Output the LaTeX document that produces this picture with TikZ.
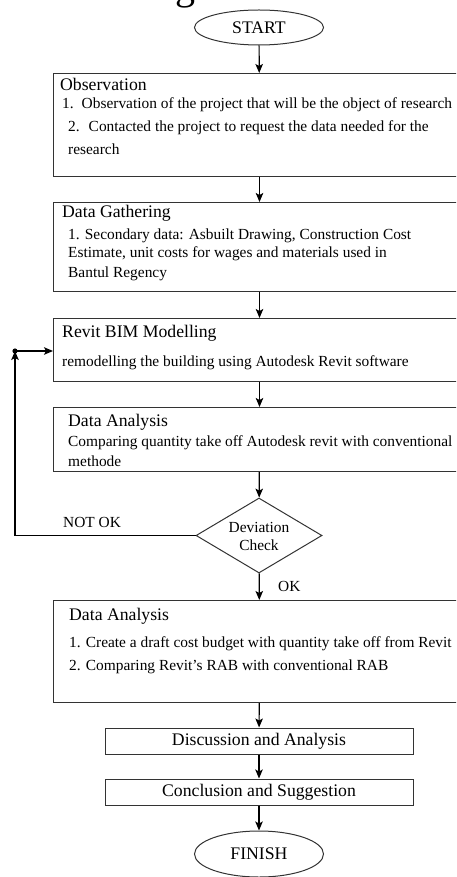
\documentclass[tikz,border=0pt]{standalone}
\usepackage{fontspec}
\setmainfont{Liberation Serif}
\usetikzlibrary{arrows.meta,shapes.geometric}
\newcommand\ttlsize{\fontsize{17.7}{20}\selectfont}
\newcommand\itmsize{\fontsize{15.4}{18}\selectfont}
\begin{document}
\begin{tikzpicture}[x=1pt,y=-1pt,
  box/.style={draw=black!80, line width=1pt, anchor=north west, inner sep=0pt, minimum width=412pt},
  smallbox/.style={draw=black!80, line width=1pt, inner sep=0pt, minimum width=308pt, minimum height=26pt, font=\ttlsize},
  term/.style={draw=black!80, line width=1pt, ellipse, inner sep=0pt, minimum width=129pt, font=\ttlsize},
  decision/.style={draw=black!80, line width=1pt, diamond, inner sep=0pt, minimum width=126pt, minimum height=75pt},
  ttl/.style={anchor=base west, inner sep=0pt, font=\ttlsize},
  itm/.style={anchor=base west, inner sep=0pt, font=\itmsize},
  arr/.style={draw=black, line width=1.2pt, -{Stealth[length=9pt,width=7.5pt,inset=2pt]}},
  wire/.style={draw=black, line width=1.2pt}]
\useasboundingbox (0,0) rectangle (456,877);
\clip (0,0) rectangle (456,877);

% running text above the chart
\node[anchor=base east, inner sep=0pt] (hdr) at (287,0) {\fontsize{40}{44}\selectfont shown in Figure 2.};

% terminals
\node[term, minimum height=35pt] (start) at (259,27.5) {START};
\node[term, minimum height=46pt] (finish) at (259,854) {FINISH};

% Observation
\node[box, minimum height=103pt] (obs) at (53,73) {};
\node[ttl] (obsT) at (60,91) {Observation};
\node[itm] (obs1) at (62,109) {1.\hspace{8pt}Observation of the project that will be the object of research};
\node[itm] (obs2) at (68,132) {2.\hspace{9pt}Contacted the project to request the data needed for the};
\node[itm] (obs3) at (68,155) {research};

% Data Gathering
\node[box, minimum height=89pt] (gath) at (53,202) {};
\node[ttl] (gathT) at (62,218) {Data Gathering};
\node[itm] (gath1) at (68,240) {1. Secondary data: Asbuilt Drawing, Construction Cost};
\node[itm] (gath2) at (68,258) {Estimate, unit costs for wages and materials used in};
\node[itm] (gath3) at (68,277) {Bantul Regency};

% Revit BIM Modelling
\node[box, minimum height=63pt] (revit) at (53,318) {};
\node[ttl] (revitT) at (62,337) {Revit BIM Modelling};
\node[itm] (revit1) at (62,366) {remodelling the building using Autodesk Revit software};

% Data Analysis (quantity take off)
\node[box, minimum height=64pt] (anaA) at (53,407) {};
\node[ttl] (anaAT) at (68,426) {Data Analysis};
\node[itm] (anaA1) at (68,446) {Comparing quantity take off Autodesk revit with conventional};
\node[itm] (anaA2) at (68,466) {methode};

% Deviation check
\node[decision] (dev) at (259,535.5) {};
\node[anchor=base, inner sep=0pt, font=\itmsize] (devT1) at (259,532) {Deviation};
\node[anchor=base, inner sep=0pt, font=\itmsize] (devT2) at (259,550) {Check};
\node[itm] (notok) at (63,527) {NOT OK};
\node[itm] (ok) at (278,591) {OK};

% Data Analysis (cost budget)
\node[box, minimum height=102pt] (anaB) at (53,600) {};
\node[ttl] (anaBT) at (69,620) {Data Analysis};
\node[itm] (anaB1) at (69,647) {1. Create a draft cost budget with quantity take off from Revit};
\node[itm] (anaB2) at (69,670) {2. Comparing Revit's RAB with conventional RAB};

% closing steps
\node[smallbox] (disc) at (259,741) {Discussion and Analysis};
\node[smallbox] (conc) at (259,792) {Conclusion and Suggestion};

% main flow
\draw[arr] (start) -- (obs);
\draw[arr] (obs) -- (gath);
\draw[arr] (gath) -- (revit);
\draw[arr] (revit) -- (anaA);
\draw[arr] (anaA) -- (dev);
\draw[arr] (dev) -- (anaB);
\draw[arr] (anaB) -- (disc);
\draw[arr] (disc) -- (conc);
\draw[arr] (conc) -- (finish);

% feedback loop back to modelling
\coordinate (loop) at (15,351);
\draw[arr] (dev.west) -| (loop);
\draw[arr] (loop) -- (revit.west |- loop);
\fill (loop) circle (2.6);
\end{tikzpicture}
\end{document}
